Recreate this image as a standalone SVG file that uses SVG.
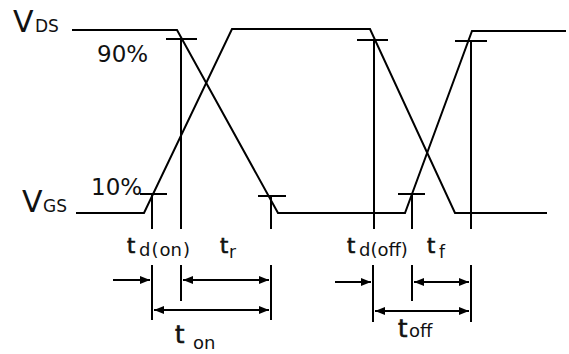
<svg xmlns="http://www.w3.org/2000/svg" width="569" height="354" viewBox="0 0 569 354">
<defs>
<style>
.w{fill:none;stroke:#000;stroke-width:2;stroke-linejoin:miter}
.l{stroke:#000;stroke-width:2;fill:none}
text{font-family:"DejaVu Sans","Liberation Sans",sans-serif;fill:#111}
.big{font-size:30px}
.sub{font-size:17px}
.pct{font-size:23px}
.t{font-size:21px;stroke:#111;stroke-width:0.7}
.tb{font-size:24px;stroke:#111;stroke-width:0.7}
.ts{font-size:18px}
</style>
<marker id="ah" viewBox="0 0 10 8" refX="10" refY="4" markerWidth="10" markerHeight="8" markerUnits="userSpaceOnUse" orient="auto-start-reverse">
<path d="M0,0 L10,4 L0,8 Z" fill="#000"/>
</marker>
</defs>
<rect width="569" height="354" fill="#fff"/>
<g id="labels">
<text x="13" y="32" class="big">V</text><text x="35" y="32" class="sub">DS</text>
<text x="22" y="212" class="big">V</text><text x="43" y="212" class="sub">GS</text>
<text x="97" y="62" class="pct">90%</text>
<text x="91" y="195" class="pct">10%</text>
</g>
<g id="waveforms">
<polyline id="vds" class="w" points="72,30 177,30 278,213 405,213 472,31 566,31"/>
<polyline id="vgs" class="w" points="76,213 144,213 232,29 370,29 455,213 547,213"/>
</g>
<g id="ticks">
<line class="l" x1="166" y1="39" x2="197" y2="39"/>
<line class="l" x1="140" y1="194" x2="167" y2="194"/>
<line class="l" x1="258" y1="196" x2="286" y2="196"/>
<line class="l" x1="357" y1="40" x2="388" y2="40"/>
<line class="l" x1="398" y1="194" x2="425" y2="194"/>
<line class="l" x1="455" y1="41" x2="487" y2="41"/>
</g>
<g id="connectors">
<line class="l" x1="181" y1="39" x2="181" y2="229"/>
<line class="l" x1="152" y1="194" x2="152" y2="229"/>
<line class="l" x1="271" y1="196" x2="271" y2="229"/>
<line class="l" x1="374" y1="40" x2="374" y2="229"/>
<line class="l" x1="412" y1="194" x2="412" y2="229"/>
<line class="l" x1="471" y1="41" x2="471" y2="229"/>
<line class="l" x1="152" y1="265" x2="152" y2="320"/>
<line class="l" x1="181" y1="265" x2="181" y2="301"/>
<line class="l" x1="271" y1="265" x2="271" y2="320"/>
<line class="l" x1="373" y1="265" x2="373" y2="322"/>
<line class="l" x1="412" y1="265" x2="412" y2="301"/>
<line class="l" x1="471" y1="265" x2="471" y2="322"/>
<line class="l" x1="113" y1="280" x2="150" y2="280" marker-end="url(#ah)"/>
<line class="l" x1="183" y1="280" x2="269" y2="280" marker-start="url(#ah)" marker-end="url(#ah)"/>
<line class="l" x1="154" y1="310" x2="269" y2="310" marker-start="url(#ah)" marker-end="url(#ah)"/>
<line class="l" x1="335" y1="282" x2="371" y2="282" marker-end="url(#ah)"/>
<line class="l" x1="414" y1="282" x2="469" y2="282" marker-start="url(#ah)" marker-end="url(#ah)"/>
<line class="l" x1="375" y1="311" x2="469" y2="311" marker-start="url(#ah)" marker-end="url(#ah)"/>
</g>
<g id="time-labels">
<text x="127" y="253" class="t">t</text><text x="139" y="256" class="ts">d<tspan dx="1">(</tspan><tspan dx="1">on</tspan><tspan dx="1">)</tspan></text>
<text x="220" y="253" class="t">t</text><text x="229" y="258" class="sub">r</text>
<text x="347" y="253" class="t">t</text><text x="359" y="256" class="ts">d(off)</text>
<text x="427" y="253" class="t">t</text><text x="439" y="258" class="sub">f</text>
<text x="175" y="343" class="tb">t</text><text x="193" y="349" class="ts">on</text>
<text x="398" y="337" class="tb">t</text><text x="409" y="337" class="ts">off</text>
</g>
</svg>
